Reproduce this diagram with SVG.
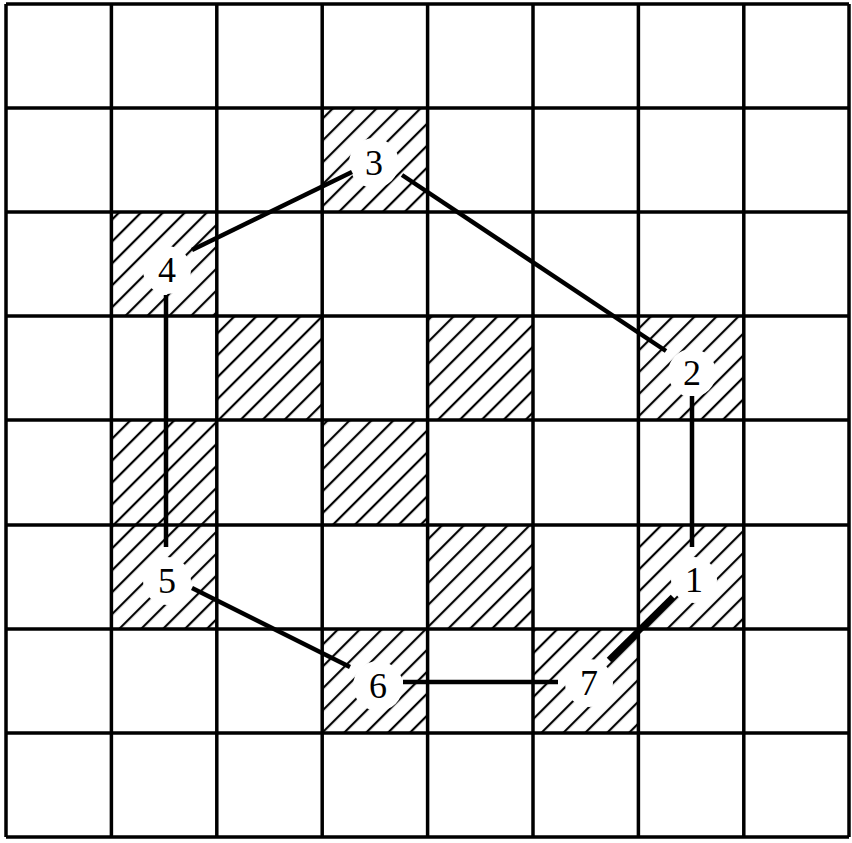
<svg xmlns="http://www.w3.org/2000/svg" width="852" height="843" viewBox="0 0 852 843">
<defs>
<pattern id="hatch" patternUnits="userSpaceOnUse" width="15.5" height="10" patternTransform="rotate(45)">
<line x1="2" y1="0" x2="2" y2="10" stroke="#000" stroke-width="2.2"/>
</pattern>
</defs>
<style>
.cell{fill:url(#hatch);}
.grid line{stroke:#000;stroke-width:3.5;}
.halo{fill:#fff;}
.lbl{font-family:"Liberation Serif","Times New Roman",serif;font-size:36px;fill:#000;text-anchor:middle;}
.conn line{stroke:#000;stroke-width:4.5;stroke-linecap:butt;}
</style>
<rect x="0" y="0" width="852" height="843" fill="#fff"/>
<g id="plain-hatched">
<rect class="cell" x="216.8" y="316" width="105.4" height="104"/>
<rect class="cell" x="427.6" y="316" width="105.4" height="104"/>
<rect class="cell" x="111.4" y="420" width="105.4" height="105"/>
<rect class="cell" x="322.2" y="420" width="105.4" height="105"/>
<rect class="cell" x="427.6" y="525" width="105.4" height="104"/>
</g>
<g id="node1"><rect class="cell" x="638.4" y="525" width="105.4" height="104"/><circle class="halo" cx="694" cy="580" r="23"/><text class="lbl" x="694" y="592">1</text></g>
<g id="node2"><rect class="cell" x="638.4" y="316" width="105.4" height="104"/><circle class="halo" cx="692" cy="373" r="24"/><text class="lbl" x="692" y="385">2</text></g>
<g id="node3"><rect class="cell" x="322.2" y="108" width="105.4" height="104"/><circle class="halo" cx="374" cy="163" r="25"/><text class="lbl" x="374" y="175">3</text></g>
<g id="node4"><rect class="cell" x="111.4" y="212" width="105.4" height="104"/><circle class="halo" cx="167" cy="270" r="24"/><text class="lbl" x="167" y="282">4</text></g>
<g id="node5"><rect class="cell" x="111.4" y="525" width="105.4" height="104"/><circle class="halo" cx="167" cy="581" r="24"/><text class="lbl" x="167" y="593">5</text></g>
<g id="node6"><rect class="cell" x="322.2" y="629" width="105.4" height="104"/><circle class="halo" cx="378" cy="686" r="25"/><text class="lbl" x="378" y="698">6</text></g>
<g id="node7"><rect class="cell" x="533" y="629" width="105.4" height="104"/><circle class="halo" cx="589" cy="683" r="24"/><text class="lbl" x="589" y="695">7</text></g>
<g class="grid">
<line x1="6" y1="4" x2="6" y2="837"/>
<line x1="111.4" y1="4" x2="111.4" y2="837"/>
<line x1="216.8" y1="4" x2="216.8" y2="837"/>
<line x1="322.2" y1="4" x2="322.2" y2="837"/>
<line x1="427.6" y1="4" x2="427.6" y2="837"/>
<line x1="533" y1="4" x2="533" y2="837"/>
<line x1="638.4" y1="4" x2="638.4" y2="837"/>
<line x1="743.8" y1="4" x2="743.8" y2="837"/>
<line x1="849" y1="4" x2="849" y2="837"/>
<line x1="6" y1="4" x2="849" y2="4"/>
<line x1="6" y1="108" x2="849" y2="108"/>
<line x1="6" y1="212" x2="849" y2="212"/>
<line x1="6" y1="316" x2="849" y2="316"/>
<line x1="6" y1="420" x2="849" y2="420"/>
<line x1="6" y1="525" x2="849" y2="525"/>
<line x1="6" y1="629" x2="849" y2="629"/>
<line x1="6" y1="733" x2="849" y2="733"/>
<line x1="6" y1="837" x2="849" y2="837"/>
</g>
<g id="connectors" class="conn">
<line x1="352" y1="172" x2="192" y2="250"/>
<line x1="402" y1="175" x2="666" y2="351"/>
<line x1="166" y1="295" x2="166" y2="547"/>
<line x1="692" y1="396" x2="692" y2="547"/>
<line x1="673" y1="597" x2="609" y2="660" style="stroke-width:6.5"/>
<line x1="403" y1="682" x2="558" y2="682"/>
<line x1="192" y1="588" x2="350" y2="667"/>
</g>
</svg>
